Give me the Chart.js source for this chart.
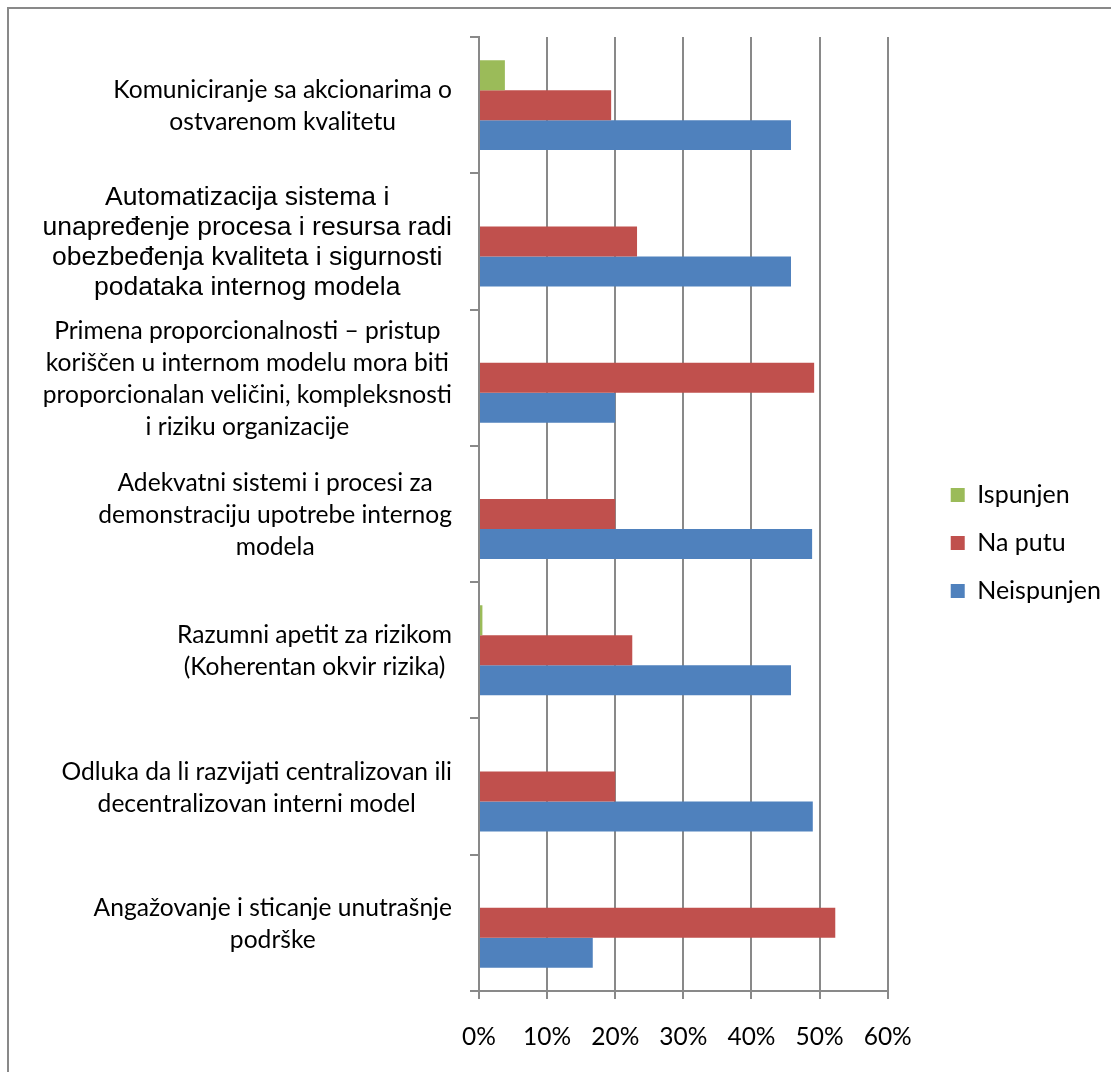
<!DOCTYPE html>
<html>
<head>
<meta charset="utf-8">
<script src="https://cdn.jsdelivr.net/npm/chart.js@4.4.1/dist/chart.umd.min.js"></script>
<style>
  html, body { margin: 0; padding: 0; background: #fff; overflow: hidden; }
  #frame { position: absolute; left: 7px; top: 7px; width: 1300px; height: 1300px;
           border-left: 2px solid #898989; border-top: 2px solid #898989; }
  #wrap { position: absolute; left: 0; top: 0; width: 1111px; height: 1072px; }
</style>
</head>
<body>
<div id="frame"></div>
<div id="wrap"><canvas id="chart"></canvas></div>
<script>
// --- DATA (top category first) ---
const categories = [
  ['Komuniciranje sa akcionarima o', 'ostvarenom kvalitetu'],
  ['Automatizacija sistema i', 'unapređenje procesa i resursa radi', 'obezbeđenja kvaliteta i sigurnosti', 'podataka internog modela'],
  ['Primena proporcionalnosti – pristup', 'koriščen u internom modelu mora biti', 'proporcionalan veličini, kompleksnosti', 'i riziku organizacije'],
  ['Adekvatni sistemi i procesi za', 'demonstraciju upotrebe internog', 'modela'],
  ['Razumni apetit za rizikom', '(Koherentan okvir rizika)'],
  ['Odluka da li razvijati centralizovan ili', 'decentralizovan interni model'],
  ['Angažovanje i sticanje unutrašnje', 'podrške']
];
const seriesNames = ['Ispunjen', 'Na putu', 'Neispunjen'];
const ispunjen   = [3.8, 0, 0, 0, 0.5, 0, 0];
const naPutu     = [19.4, 23.2, 49.2, 20.0, 22.5, 20.0, 52.3];
const neispunjen = [45.8, 45.8, 20.0, 48.9, 45.8, 49.0, 16.7];
const xTickValues = [0, 10, 20, 30, 40, 50, 60];

// --- STYLE ---
const COLORS = ['#9BBB59', '#C0504D', '#4F81BD'];
const AXIS_GRAY = '#898989';
const LABEL_FONT = 'Lato';
const LABEL_GAP = 27; // space between label block and axis

Chart.defaults.font.family = LABEL_FONT;
Chart.defaults.color = '#000';

// category labels: each block centred on its own, right edges aligned
const categoryLabels = {
  id: 'categoryLabels',
  afterDraw(chart) {
    const ctx = chart.ctx;
    const yScale = chart.scales.y;
    const right = yScale.right - LABEL_GAP;
    ctx.save();
    ctx.fillStyle = '#000';
    ctx.textAlign = 'center';
    ctx.textBaseline = 'middle';
    categories.forEach((lines, i) => {
      const arial = i === 1; // this label uses a different font in the original
      ctx.font = arial ? '26.5px "Liberation Sans"' : '24.6px ' + LABEL_FONT;
      const lh = arial ? 30 : 32;
      const w = Math.max(...lines.map(l => ctx.measureText(l).width));
      const cx = right - w / 2;
      const cy = yScale.getPixelForValue(i) + 1;
      lines.forEach((line, k) => {
        ctx.fillText(line, cx, cy + (k - (lines.length - 1) / 2) * lh);
      });
    });
    ctx.restore();
  }
};

new Chart(document.getElementById('chart'), {
  type: 'bar',
  data: {
    labels: categories.map(c => c.join(' ')),
    datasets: [
      { label: seriesNames[0], data: ispunjen, backgroundColor: COLORS[0] },
      { label: seriesNames[1], data: naPutu, backgroundColor: COLORS[1] },
      { label: seriesNames[2], data: neispunjen, backgroundColor: COLORS[2] }
    ]
  },
  options: {
    indexAxis: 'y',
    responsive: true,
    maintainAspectRatio: false,
    animation: false,
    events: [],
    barPercentage: 1,
    categoryPercentage: 0.66,
    layout: { padding: { top: 37, bottom: 23, left: 0, right: 0 } },
    plugins: {
      tooltip: { enabled: false },
      legend: {
        position: 'right',
        align: 'center',
        labels: {
          boxWidth: 14,
          boxHeight: 14,
          padding: 23,
          font: { size: 25 },
          color: '#000'
        }
      }
    },
    scales: {
      x: {
        min: 0,
        max: 60,
        afterBuildTicks: s => { s.ticks = xTickValues.map(v => ({ value: v })); },
        afterFit: s => { s.height = 58; },
        ticks: { callback: v => v + '%', font: { size: 24.5 }, color: '#000', padding: 23, maxRotation: 0 },
        grid: { color: AXIS_GRAY, lineWidth: 2, drawTicks: true, tickLength: 8 },
        border: { display: true, color: AXIS_GRAY, width: 2 }
      },
      y: {
        afterFit: s => { s.width = 479; },
        ticks: { display: false },
        grid: { offset: true, drawOnChartArea: false, drawTicks: true, tickLength: 9, color: AXIS_GRAY, lineWidth: 2 },
        border: { display: true, color: AXIS_GRAY, width: 2 }
      },
      // empty spacer between plot and legend
      ySpace: {
        type: 'linear',
        position: 'right',
        display: true,
        afterFit: s => { s.width = 40; },
        ticks: { display: false },
        grid: { display: false },
        border: { display: false }
      }
    }
  },
  plugins: [categoryLabels]
});
</script>
</body>
</html>
